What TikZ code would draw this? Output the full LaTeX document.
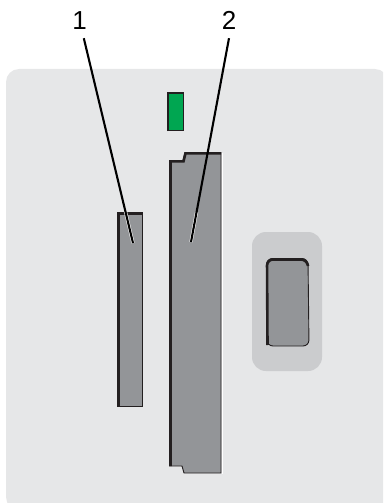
\documentclass[tikz,border=0pt]{standalone}
\usepackage{fontspec}
\setmainfont{Liberation Sans}
\usetikzlibrary{arrows.meta, positioning, calc}

\begin{document}
\begin{tikzpicture}[
    x=1pt, y=-1pt,
    num/.style={font=\fontsize{26}{26}\selectfont, inner sep=0pt, text height=18pt, text depth=8pt, text width=15pt, align=center},
    slot/.style={fill=slotgray, draw=slotdark, line width=0.9pt, line join=miter},
    bevel/.style={draw=slotdark, line width=2.6pt, line cap=butt},
    leader/.style={draw=black, line width=2.1pt},
    halo/.style={draw=white, line width=3.2pt}
  ]
    \definecolor{panelgray}{HTML}{E6E7E8}
    \definecolor{btngray}{HTML}{CBCCCE}
    \definecolor{slotgray}{HTML}{939598}
    \definecolor{slotdark}{HTML}{231F20}
    \definecolor{ledgreen}{HTML}{00A651}
    \clip (0,0) rectangle (383,503);

    % front panel
    \fill[panelgray, rounded corners=13pt] (6,69) rectangle (388,510);

    % lamp
    \node[draw=slotdark, fill=ledgreen, line width=1pt, minimum width=15pt, minimum height=37pt, inner sep=0pt] (lamp) at (176,112) {};
    \draw[bevel, line width=1.6pt] (lamp.south west) -- (lamp.north west) -- (lamp.north east);

    % small slot
    \draw[slot] (117.5,212.5) rectangle (142,406.5);
    \draw[bevel] (118.5,406.5) -- (118.5,213.3) -- (142,213.3);

    % long slot
    \draw[white, line width=1pt] (222,153) -- (222,473.5);
    \draw[slot] (169.5,160.5) -- (183,160.5) -- (185,152.5) -- (221,152.5) -- (221,473) -- (184,473) -- (182,466) -- (169.5,466) -- cycle;
    \draw[bevel] (170.5,466) -- (170.5,161.3) -- (183.5,161.3) -- (185.5,153.3) -- (221,153.3);

    % button
    \node[fill=btngray, rounded corners=14pt, minimum width=70pt, minimum height=139pt, inner sep=0pt] (button) at (287,301.5) {};
    \draw[fill=slotgray, draw=slotdark, line width=0.9pt, rounded corners=6pt] (266.5,258.5) -- (308,258.5) -- (309,346) -- (267,346) -- cycle;
    \draw[bevel, rounded corners=6pt] (267.5,345) -- (267,259.5) -- (307,259.5) -- (308,266);

    % callouts
    \node[num] (num1) at (79.5,25) {1};
    \node[num] (num2) at (229,25) {2};
    \coordinate (tip1) at (133,243);
    \coordinate (tip2) at (191,242);
    \begin{scope}
      \clip (117,212) rectangle (221,474);
      \draw[halo] (num1.-72) -- (tip1);
      \draw[halo] (num2.south) -- (tip2);
    \end{scope}
    \draw[leader] (num1.-72) -- (tip1);
    \draw[leader] (num2.south) -- (tip2);
\end{tikzpicture}
\end{document}
